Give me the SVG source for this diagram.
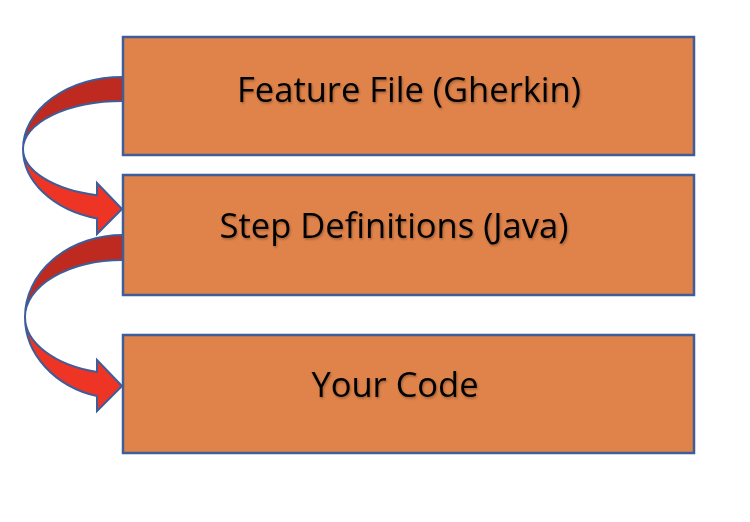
<svg xmlns="http://www.w3.org/2000/svg" width="750" height="522" viewBox="0 0 750 522">
  <defs>
    <style>
      .box { fill: #E0834A; stroke: #3F5D99; stroke-width: 2.5; }
      .lbl { font-family: "Open Sans", "Liberation Sans", sans-serif; font-size: 34.5px; fill: #000; text-anchor: middle; filter: url(#sh); }
      .back { fill: #BE2A1F; stroke: #3F5D99; stroke-width: 2; stroke-linejoin: round; }
      .front { fill: #EE3425; stroke: #3F5D99; stroke-width: 2; stroke-linejoin: miter; }
    </style>
    <filter id="sh" x="-5%" y="-20%" width="110%" height="150%">
      <feDropShadow dx="1" dy="1.5" stdDeviation="1" flood-color="#000" flood-opacity="0.3"/>
    </filter>
  </defs>
  <rect width="750" height="522" fill="#fff"/>
  <g id="connectors">
    <g id="arrow1">
      <path class="back" d="M123,77 A100,72 0 0 0 23,149 A100,48 0 0 1 123,101 Z"/>
      <path class="front" d="M23,149 A100,48 0 0 0 97,195.3 L97,183 L122,209 L97,234 L97,218.5 A100,72 0 0 1 23,149 Z"/>
    </g>
    <g id="arrow2">
      <path class="back" d="M123,235 A98,82 0 0 0 25,317 A98,57 0 0 1 123,260 Z"/>
      <path class="front" d="M25,317 A98,57 0 0 0 97,372 L97,360 L122,386 L97,411 L97,396.1 A98,82 0 0 1 25,317 Z"/>
    </g>
  </g>
  <g id="node-feature">
    <rect class="box" x="123" y="37" width="571" height="118"/>
    <text class="lbl" x="409" y="102">Feature File (Gherkin)</text>
  </g>
  <g id="node-steps">
    <rect class="box" x="123" y="175" width="571" height="120"/>
    <text class="lbl" x="394" y="238">Step Definitions (Java)</text>
  </g>
  <g id="node-code">
    <rect class="box" x="123" y="335" width="571" height="118"/>
    <text class="lbl" x="395" y="397">Your Code</text>
  </g>
</svg>
